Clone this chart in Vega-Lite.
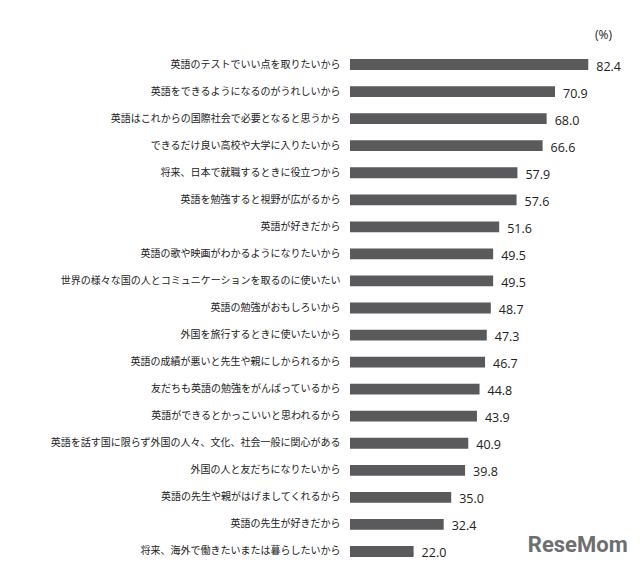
{
  "$schema": "https://vega.github.io/schema/vega-lite/v6.json",
  "autosize": "none",
  "width": 240,
  "height": 514,
  "padding": {"left": 350, "top": 51, "right": 50, "bottom": 2},
  "background": "white",
  "config": {"view": {"stroke": null}, "font": "Noto Sans CJK JP"},
  "title": {"text": "(%)", "anchor": "end", "frame": "group", "fontSize": 12, "fontWeight": "normal", "color": "#222222", "font": "Open Sans", "offset": 9, "dx": 22},
  "datasets": {
    "reasons": [
      {"reason": "英語のテストでいい点を取りたいから", "pct": 82.4},
      {"reason": "英語をできるようになるのがうれしいから", "pct": 70.9},
      {"reason": "英語はこれからの国際社会で必要となると思うから", "pct": 68.0},
      {"reason": "できるだけ良い高校や大学に入りたいから", "pct": 66.6},
      {"reason": "将来、日本で就職するときに役立つから", "pct": 57.9},
      {"reason": "英語を勉強すると視野が広がるから", "pct": 57.6},
      {"reason": "英語が好きだから", "pct": 51.6},
      {"reason": "英語の歌や映画がわかるようになりたいから", "pct": 49.5},
      {"reason": "世界の様々な国の人とコミュニケーションを取るのに使いたい", "pct": 49.5},
      {"reason": "英語の勉強がおもしろいから", "pct": 48.7},
      {"reason": "外国を旅行するときに使いたいから", "pct": 47.3},
      {"reason": "英語の成績が悪いと先生や親にしかられるから", "pct": 46.7},
      {"reason": "友だちも英語の勉強をがんばっているから", "pct": 44.8},
      {"reason": "英語ができるとかっこいいと思われるから", "pct": 43.9},
      {"reason": "英語を話す国に限らず外国の人々、文化、社会一般に関心がある", "pct": 40.9},
      {"reason": "外国の人と友だちになりたいから", "pct": 39.8},
      {"reason": "英語の先生や親がはげましてくれるから", "pct": 35.0},
      {"reason": "英語の先生が好きだから", "pct": 32.4},
      {"reason": "将来、海外で働きたいまたは暮らしたいから", "pct": 22.0}
    ],
    "logo": [{"name": "ReseMom", "reason": "将来、海外で働きたいまたは暮らしたいから"}]
  },
  "layer": [
    {
      "data": {"name": "reasons"},
      "mark": {"type": "bar", "color": "#5a5a5c"},
      "encoding": {
        "y": {
          "field": "reason", "type": "nominal", "sort": null,
          "scale": {"paddingInner": 0.6, "paddingOuter": 0.3},
          "axis": {"title": null, "domain": false, "ticks": false, "labelPadding": 10, "labelFontSize": 10, "labelLimit": 0, "labelColor": "#222222", "labelFont": "Noto Sans CJK JP"}
        },
        "x": {"field": "pct", "type": "quantitative", "scale": {"domain": [0, 83], "nice": false}, "axis": null}
      }
    },
    {
      "data": {"name": "reasons"},
      "mark": {"type": "text", "align": "left", "baseline": "middle", "dx": 8, "dy": 2, "fontSize": 12.5, "color": "#222222", "font": "Open Sans"},
      "encoding": {
        "y": {"field": "reason", "type": "nominal", "sort": null},
        "x": {"field": "pct", "type": "quantitative"},
        "text": {"field": "pct", "type": "quantitative", "format": ".1f"}
      }
    },
    {
      "data": {"name": "logo"},
      "mark": {"type": "text", "align": "left", "baseline": "middle", "yOffset": -6, "fontSize": 22, "fontWeight": "bold", "color": "#6d6e70", "font": "Roboto"},
      "encoding": {
        "y": {"field": "reason", "type": "nominal", "sort": null},
        "x": {"datum": 61.5, "type": "quantitative"},
        "text": {"field": "name"}
      }
    }
  ]
}
